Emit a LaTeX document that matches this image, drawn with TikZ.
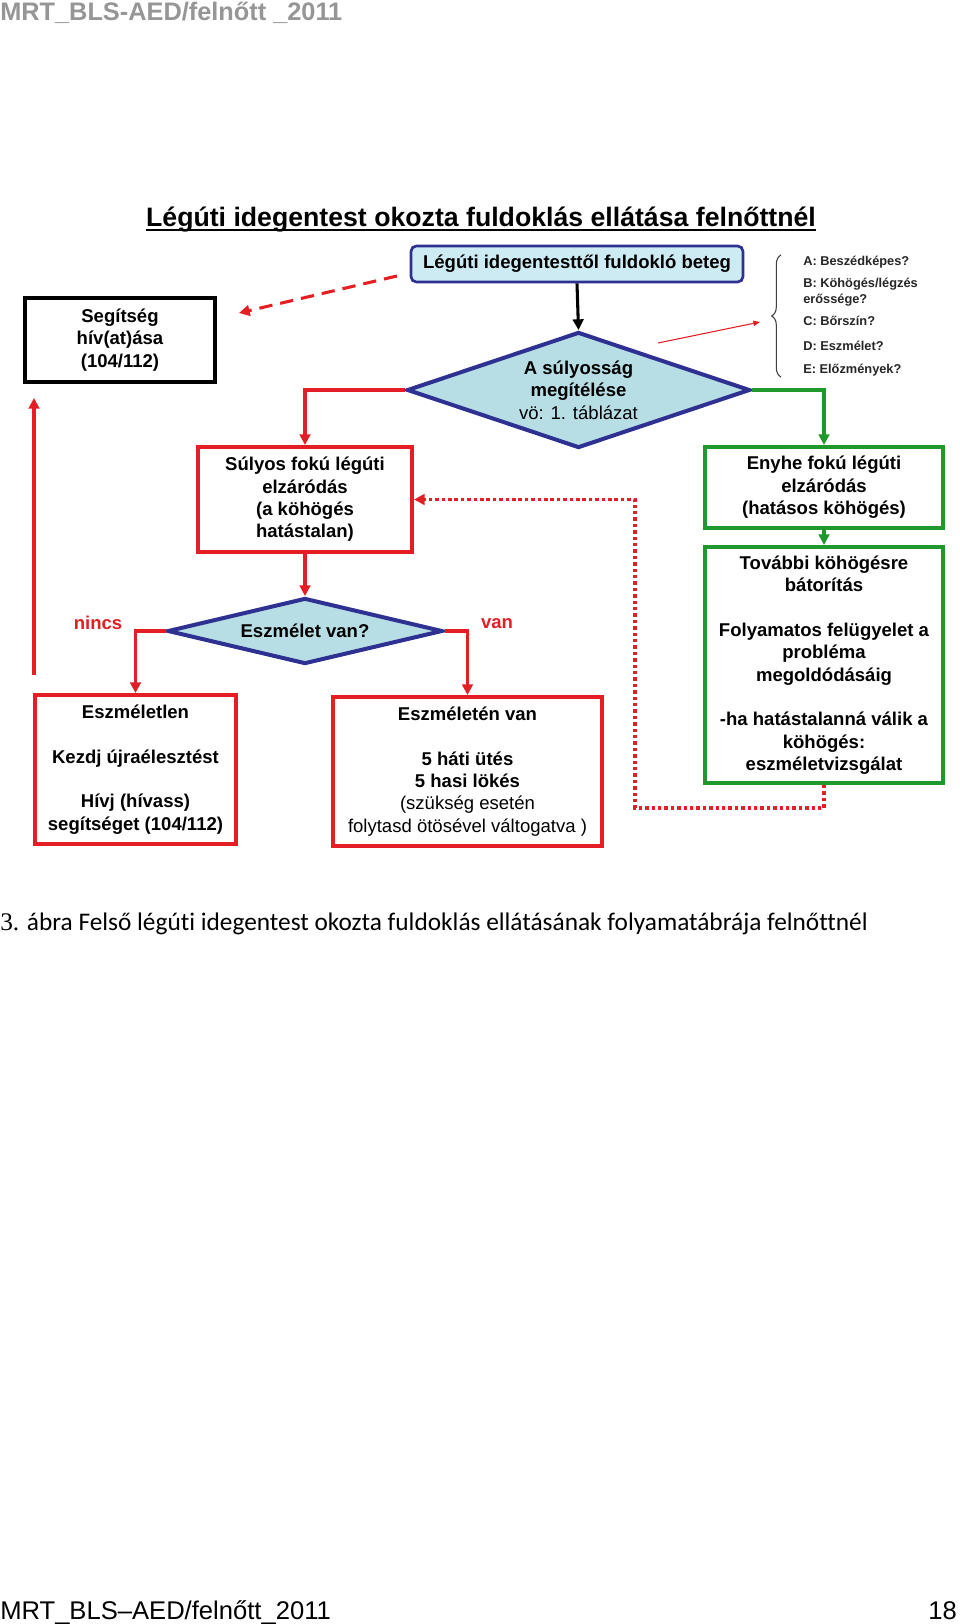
\documentclass[tikz,border=0pt]{standalone}
\usepackage{fontspec}
\setmainfont{Liberation Sans}
\newfontfamily\capfont[Ligatures=NoCommon]{Carlito}
\newfontfamily\serifcap{Liberation Serif}
\newcommand\myul[1]{\setbox0\hbox{#1}\rlap{\rule[-3.8pt]{\wd0}{1.6pt}}\box0}
\usetikzlibrary{shapes.geometric,arrows.meta,decorations.pathreplacing}
\definecolor{myred}{RGB}{227,30,36}
\definecolor{mygreen}{RGB}{31,153,43}
\definecolor{myblue}{RGB}{46,49,146}
\definecolor{dfill}{RGB}{183,222,229}
\definecolor{tfill}{RGB}{205,235,243}
\definecolor{hdrgray}{RGB}{150,150,150}
\begin{document}
\begin{tikzpicture}[x=0.75pt,y=-0.75pt,
  boxtxt/.style={font=\fontsize{13.9}{16.8}\selectfont\bfseries, align=center, inner sep=0pt},
  redbox/.style={boxtxt, rectangle, draw=myred, line width=3pt},
  greenbox/.style={boxtxt, rectangle, draw=mygreen, line width=3pt},
  blackbox/.style={boxtxt, rectangle, draw=black, line width=2.7pt},
  dia/.style={boxtxt, diamond, draw=myblue, fill=dfill, line width=3pt},
  tiph/.style={-{Triangle[length=8pt,width=8pt]}},
  redarr/.style={draw=myred, line width=2.3pt, tiph},
  greenarr/.style={draw=mygreen, line width=2.3pt, tiph},
  blackarr/.style={draw=black, line width=2.3pt, tiph},
  lbl/.style={font=\fontsize{13.9}{16.8}\selectfont\bfseries, text=myred, inner sep=0pt, anchor=base},
  lst/.style={font=\fontsize{9.6}{11.5}\selectfont\bfseries, inner sep=0pt, anchor=base west, text=black!85}
]
\useasboundingbox (0,0) rectangle (960,1624);
\fill[white] (0,0) rectangle (960,1624);

% header / footer / caption
\node[anchor=base west, inner sep=0pt, text=hdrgray, font=\fontsize{19}{22}\selectfont\bfseries] (hdr) at (0,21) {MRT\_BLS-AED/felnőtt \_2011};
\node[anchor=base west, inner sep=0pt, font=\fontsize{19.2}{22}\selectfont] (ftr) at (0,1619) {MRT\_BLS–AED/felnőtt\_2011};
\node[anchor=base east, inner sep=0pt, font=\fontsize{19.2}{22}\selectfont] (pg) at (957,1619) {18};
\node[anchor=base west, inner sep=0pt, font=\fontsize{19}{22}\capfont] (cap) at (0,930) {{\serifcap 3.} ábra Felső légúti idegentest okozta fuldoklás ellátásának folyamatábrája felnőttnél};

% title
\node[anchor=base, inner sep=0pt, font=\fontsize{20}{24}\selectfont\bfseries] (title) at (481,226) {\myul{Légúti idegentest okozta fuldoklás ellátása felnőttnél}};

% nodes
\node[boxtxt, rectangle, rounded corners=4pt, draw=myblue, fill=tfill, line width=2pt,
      minimum width=249pt, minimum height=27pt] (top) at (577,264) {Légúti idegentesttől fuldokló beteg};
\node[dia, aspect=3, minimum width=257.25pt, minimum height=87pt] (d1) at (578.5,390)
  {A súlyosság\\megítélése\\{\mdseries vö: 1. táblázat}};
\node[blackbox, minimum width=142.5pt, minimum height=63pt] (seg) at (120,340) {Segítség\\hív(at)ása\\(104/112)};
\node[redbox, minimum width=160.5pt, minimum height=78.75pt] (b2) at (305,499.5)
  {Súlyos fokú légúti\\elzáródás\\(a köhögés\\hatástalan)};
\node[dia, aspect=4, minimum width=206.25pt, minimum height=49.5pt] (d2) at (305,631) {Eszmélet van?};
\node[redbox, minimum width=150.75pt, minimum height=111.75pt] (b3) at (135.5,769.5)
  {Eszméletlen\\[16.8pt]Kezdj újraélesztést\\[16.8pt]Hívj (hívass)\\segítséget (104/112)};
\node[redbox, minimum width=201.75pt, minimum height=111.75pt] (b4) at (467.5,771.5)
  {Eszméletén van\\[16.8pt]5 háti ütés\\5 hasi lökés\\{\mdseries (szükség esetén}\\{\mdseries folytasd ötösével váltogatva )}};
\node[greenbox, minimum width=178.5pt, minimum height=60.75pt] (b5) at (824,487.5)
  {Enyhe fokú légúti\\elzáródás\\(hatásos köhögés)};
\node[greenbox, minimum width=178.5pt, minimum height=177pt] (b6) at (824,665)
  {További köhögésre\\bátorítás\\[16.8pt]Folyamatos felügyelet a\\probléma\\megoldódásáig\\[16.8pt]-ha hatástalanná válik a\\köhögés:\\eszméletvizsgálat};

\node[lbl] (nincs) at (98,629) {nincs};
\node[lbl] (van) at (497,628) {van};

% list
\node[lst] (la) at (803,265) {A: Beszédképes?};
\node[lst] (lb) at (803,287) {B: Köhögés/légzés};
\node[lst] (lb2) at (803,303) {erőssége?};
\node[lst] (lc) at (803,325) {C: Bőrszín?};
\node[lst] (ld) at (803,350) {D: Eszmélet?};
\node[lst] (le) at (803,373) {E: Előzmények?};
\coordinate (brB) at (781,377);
\coordinate (brT) at (781,255);
\draw[black!75, line width=0.8pt, decorate, decoration={brace, amplitude=7pt}] (brB) -- (brT);

% connectors
\draw[blackarr] (top.south) -- (d1.north);
\draw[redarr] (d1.west) -| (b2.north);
\draw[redarr] (b2.south) -- (d2.north);
\draw[redarr] (d2.west) -| (b3.north);
\draw[redarr] (d2.east) -| (b4.north);
\draw[greenarr] (d1.east) -| (b5.north);
\draw[greenarr] (b5.south) -- (b6.north);

\coordinate (dA) at (635,808);
\draw[myred, line width=2.6pt, dash pattern=on 2.6pt off 2.2pt, tiph] (b6.south) |- (dA) |- (b2.east);

\coordinate (dsA) at (397,276);
\coordinate (dsB) at (239,313);
\draw[myred, line width=2.3pt, dash pattern=on 10pt off 6pt, tiph] (dsA) -- (dsB);

\coordinate (upA) at (34,675);
\coordinate (upB) at (34,398);
\draw[redarr] (upA) -- (upB);

\coordinate (thA) at (658,343);
\coordinate (thB) at (760,322);
\draw[myred, line width=0.8pt, -{Triangle[length=5pt,width=4pt]}] (thA) -- (thB);
\end{tikzpicture}
\end{document}
